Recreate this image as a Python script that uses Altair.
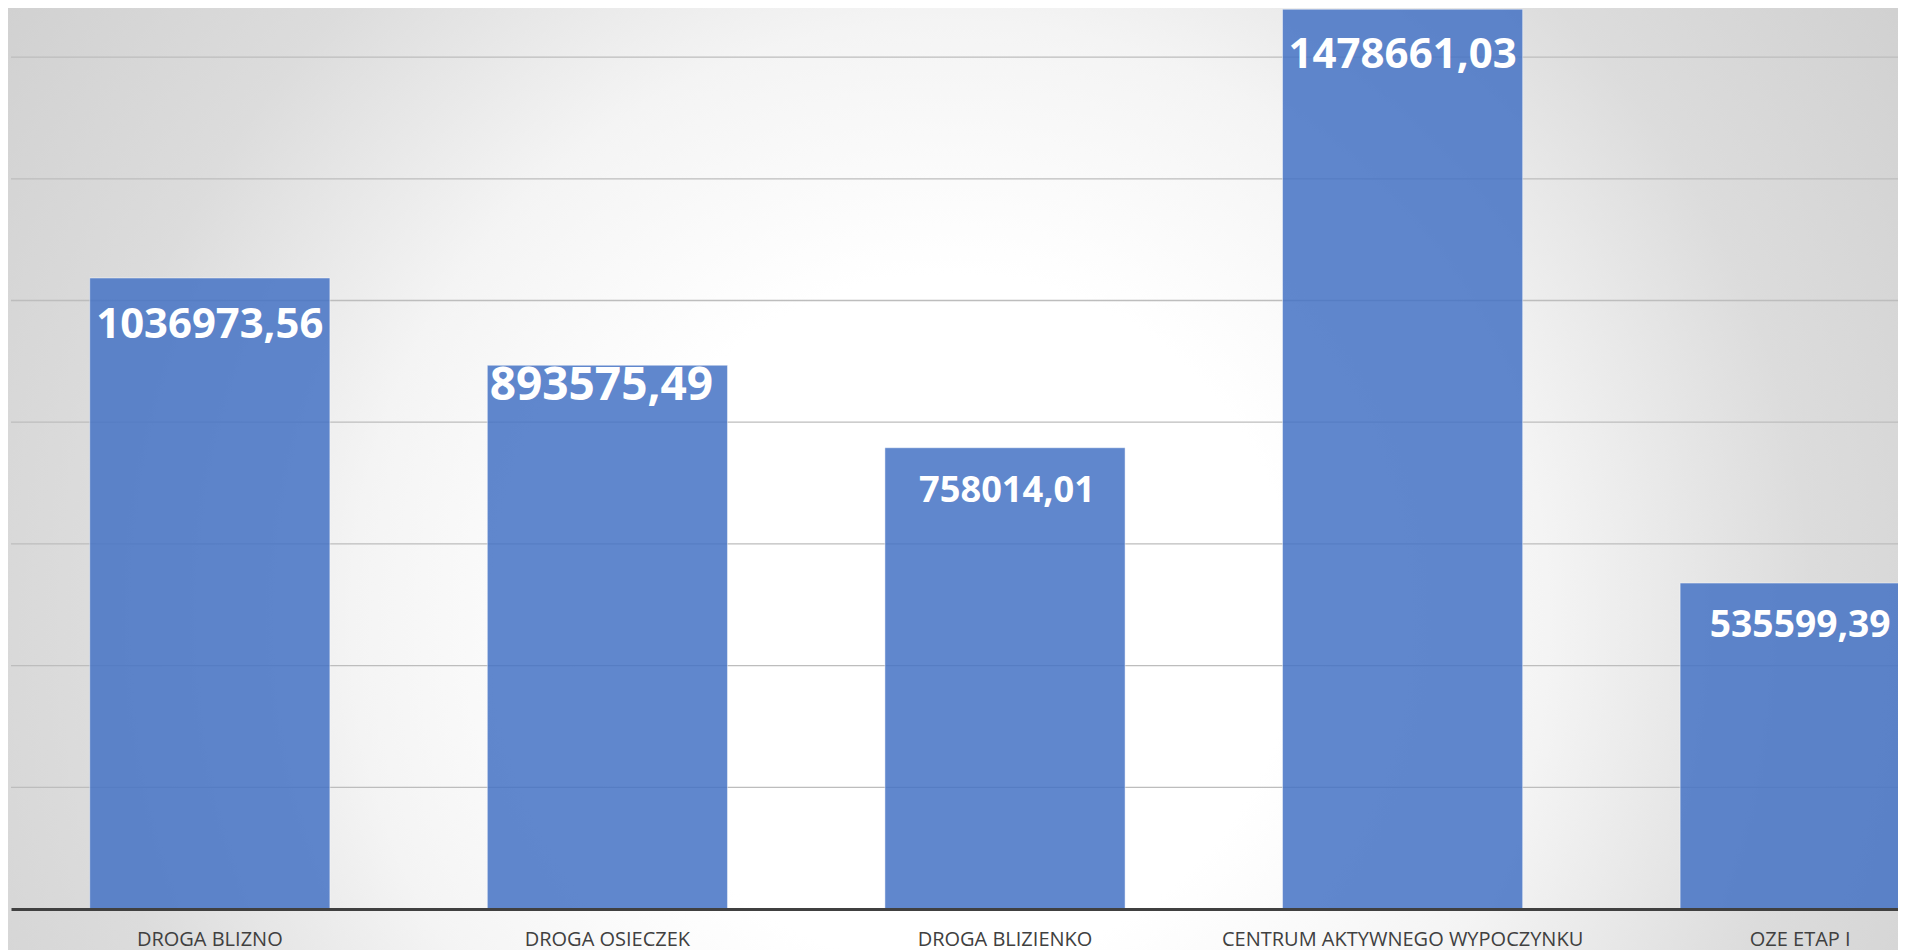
import altair as alt
import pandas as pd

categories = ["DROGA BLIZNO", "DROGA OSIECZEK", "DROGA BLIZIENKO",
              "CENTRUM AKTYWNEGO WYPOCZYNKU", "OZE ETAP I"]
values = [1036973.56, 893575.49, 758014.01, 1478661.03, 535599.39]
grid_values = [200000, 400000, 600000, 800000, 1000000, 1200000, 1400000]

labels = [f"{v:.2f}".replace(".", ",") for v in values]
df = pd.DataFrame({"category": categories, "value": values, "label": labels})
grid_df = pd.DataFrame({"g": grid_values})
one = pd.DataFrame({"a": [0]})

# per-label styling (font size, baseline offset below bar top, x shift)
LABEL_SIZE = [41.8, 46, 36.2, 42, 37.2]
LABEL_DY = [60, 35, 54, 59, 54]
LABEL_DX = [0, -6, 2, 0, 0]

W = 1887
H = 901
Y_MAX = 1480690
X_RANGE = 1988

yscale = alt.Scale(domain=[0, Y_MAX], nice=False, zero=True)
xscale = alt.Scale(domain=categories, range=[0, X_RANGE],
                   paddingInner=0.396, paddingOuter=0.198)

xaxis = alt.Axis(title=None, domainColor="#404040", domainWidth=3,
                 ticks=False, tickSize=0, labelFont="Open Sans",
                 labelFontSize=20, labelColor="#404040", labelPadding=36,
                 labelBaseline="alphabetic", labelAngle=0, grid=False,
                 labelLimit=1000, labelOverlap=False, zindex=1)
xenc = alt.X("category:N", scale=xscale, sort=categories, axis=xaxis)

grad = alt.RadialGradient(
    gradient="radial",
    stops=[
        alt.GradientStop(color="#ffffff", offset=0),
        alt.GradientStop(color="#ffffff", offset=0.3),
        alt.GradientStop(color="#f4f4f4", offset=0.52),
        alt.GradientStop(color="#dcdcdc", offset=0.75),
        alt.GradientStop(color="#d0d0d0", offset=1),
    ],
    x1=0.5, y1=0.5, x2=0.5, y2=0.5, r1=0, r2=0.5,
)

cx, cy, R = 939, 612, 1150
bg = alt.Chart(one).mark_rect(fill=grad, strokeWidth=0).encode(
    x=alt.value(cx - R), x2=alt.value(cx + R),
    y=alt.value(cy - R), y2=alt.value(cy + R),
)

grid = alt.Chart(grid_df).mark_rule(color="#bdbdbd", strokeWidth=1.3).encode(
    y=alt.Y("g:Q", scale=yscale, axis=None),
    x=alt.value(0), x2=alt.value(X_RANGE),
)

bars = alt.Chart(df).mark_bar(
    color="#4472C4", fillOpacity=0.85, stroke="#ffffff",
    strokeOpacity=0.45, strokeWidth=1,
).encode(
    x=xenc,
    y=alt.Y("value:Q", scale=yscale, axis=None),
)

texts = []
for i, cat in enumerate(categories):
    texts.append(
        alt.Chart(df).transform_filter(alt.datum.category == cat).mark_text(
            color="#ffffff", font="Open Sans", fontSize=LABEL_SIZE[i],
            fontWeight="bold", baseline="alphabetic",
            dy=LABEL_DY[i], dx=LABEL_DX[i],
        ).encode(
            x=xenc,
            y=alt.Y("value:Q", scale=yscale, axis=None),
            text="label:N",
        )
    )

chart = alt.layer(bg, grid, bars, *texts).properties(
    width=W, height=H,
    autosize=alt.AutoSizeParams(type="none"),
    padding={"left": 3, "top": 0, "right": 0, "bottom": 41},
    background="#d3d3d3",
).configure_view(stroke=None)

chart.save("out.html", embed_options={"renderer": "svg", "actions": False})
